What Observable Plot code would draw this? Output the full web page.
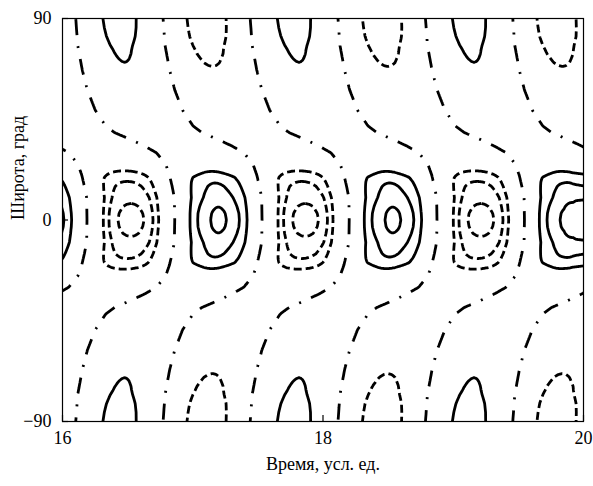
<!DOCTYPE html>
<html><head><meta charset="utf-8">
<script src="https://cdn.jsdelivr.net/npm/d3@7"></script>
<script src="https://cdn.jsdelivr.net/npm/@observablehq/plot@0.6"></script>
<style>body{margin:0;background:#fff;}</style>
</head><body><div id="chart"></div>
<script>
// Equatorial wave: times of the alternating extremes and their peak values
const waveCenters = [15.178, 15.850, 16.526, 17.198, 17.866, 18.537, 19.213, 19.881, 20.553, 21.225];
const wavePeaks   = [-3.4, 3.25, -3.4, 3.25, -3.4, 3.25, -3.4, 3.25, -3.4, 3.25];
// equatorial profile of a maximum / minimum: time distance from the extreme and value there
const solidOffsets  = [0, 0.02, 0.04, 0.061, 0.11, 0.161, 0.19, 0.219, 0.275];
const solidValues   = [3.25, 3.22, 3.14, 3.0, 2.5, 2.0, 1.5, 1.0, 0.45];
const dashedOffsets = [0, 0.03, 0.06, 0.10, 0.14, 0.169, 0.19, 0.211, 0.27];
const dashedValues  = [-3.4, -3.36, -3.26, -3.0, -2.5, -2.0, -1.5, -1.0, -0.4];
// latitude profile (|lat|, deg): relative amplitude
const profileLat = [0, 3, 6, 9, 12, 15, 17, 19, 21, 22, 24, 27, 30, 35, 40, 50, 60, 70, 76, 82, 86, 90];
const profileAmp = [1, 0.98, 0.92, 0.84, 0.76, 0.67, 0.60, 0.50, 0.35, 0.29, 0.23, 0.17, 0.12, 0.07, 0.08, 0.15, 0.23, 0.305, 0.345, 0.40, 0.42, 0.43];
// latitude profile: time lead of the pattern relative to the equator
const leadLat  = [0, 10, 15, 20, 25, 30, 33, 36, 39, 42, 49, 58, 67, 78, 90];
const leadTime = [0, 0.003, 0.02, 0.04, 0.07, 0.14, 0.23, 0.34, 0.46, 0.53, 0.61, 0.67, 0.71, 0.745, 0.76];
// growth of the last equatorial maximum near t = 20
const growthTime  = [19.85, 19.92, 20.0, 20.3];
const growthValue = [0, 0.35, 1.35, 1.35];
const growthLat   = [0, 9.4, 16, 21.4, 26, 90];
const growthAmp   = [1, 0.73, 0.36, 0.13, 0, 0];
// contour levels and ticks
const posLevels  = [1, 2, 3];
const negLevels  = [-3, -2, -1];
const zeroLevels = [0];
const xTicks = [16, 18, 20];
const yTicks = [-90, 0, 90];
const xLabel = "Время, усл. ед.";
const yLabel = "Широта, град";

// build the equatorial wave node table
const nodes = [];
waveCenters.forEach((c, i) => {
  const p = wavePeaks[i];
  const offs = p > 0 ? solidOffsets : dashedOffsets;
  const vals = p > 0 ? solidValues : dashedValues;
  const k = p / vals[0];
  nodes.push([c, p]);
  for (let j = 1; j < offs.length; j++) {
    nodes.push([c - offs[j], vals[j] * k]);
    nodes.push([c + offs[j], vals[j] * k]);
  }
  if (i < waveCenters.length - 1) nodes.push([(c + waveCenters[i + 1]) / 2, 0]);
});
nodes.sort((a, b) => a[0] - b[0]);
const waveT = nodes.map(d => d[0]);
const waveV = nodes.map(d => d[1]);

function lerp(xs, ys, x) {
  if (x <= xs[0]) return ys[0];
  if (x >= xs[xs.length - 1]) return ys[ys.length - 1];
  const i = d3.bisectRight(xs, x);
  const x0 = xs[i - 1], x1 = xs[i];
  const f = x1 === x0 ? 0 : (x - x0) / (x1 - x0);
  return ys[i - 1] + f * (ys[i] - ys[i - 1]);
}
function field(t, lat) {
  const a = Math.min(Math.abs(lat), 90);
  return lerp(profileLat, profileAmp, a) * lerp(waveT, waveV, t + lerp(leadLat, leadTime, a))
       + lerp(growthLat, growthAmp, a) * lerp(growthTime, growthValue, t);
}

const common = {value: field, x1: 15.9, x2: 20.1, y1: -96, y2: 96, fill: "none", stroke: "black",
  strokeWidth: 2.8, strokeLinejoin: "round", clip: true, pixelSize: 1};

const chart = Plot.plot({
  width: 593, height: 486,
  marginLeft: 62, marginRight: 10, marginTop: 18, marginBottom: 65,
  style: {fontFamily: "Liberation Serif", fontSize: "18px", color: "black", background: "white"},
  x: {domain: [16, 20], ticks: xTicks, tickSize: 0, tickPadding: 10, label: null,
      tickFormat: d => String(d)},
  y: {domain: [-90, 90], ticks: yTicks, tickSize: 0, tickPadding: 11, label: null,
      tickFormat: d => d < 0 ? "\u2212" + Math.abs(d) : String(d)},
  marks: [
    Plot.contour({...common, thresholds: zeroLevels, strokeDasharray: "16,11,2,11"}),
    Plot.contour({...common, thresholds: negLevels, strokeDasharray: "8,4"}),
    Plot.contour({...common, thresholds: posLevels}),
    Plot.frame({stroke: "black", strokeWidth: 1.2}),
    Plot.tickX(xTicks, {x: d => d, insetTop: 397, stroke: "black", strokeWidth: 1.2}),
    Plot.tickY(yTicks, {y: d => d, insetRight: 515, stroke: "black", strokeWidth: 1.2}),
    Plot.text([xLabel], {frameAnchor: "bottom", dy: 48, fontSize: 18, fill: "black"}),
    Plot.text([yLabel], {frameAnchor: "left", dx: -44, rotate: -90, fontSize: 18, fill: "black"})
  ]
});
document.getElementById("chart").append(chart);
</script></body></html>
